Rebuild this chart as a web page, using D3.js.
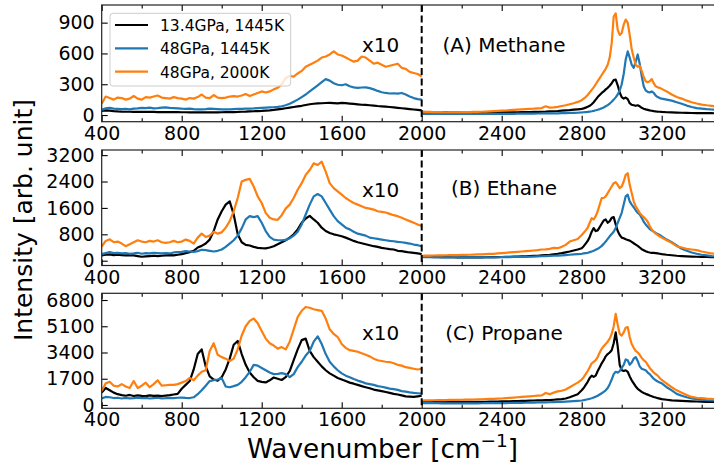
<!DOCTYPE html>
<html>
<head>
<meta charset="utf-8">
<script src="https://cdn.jsdelivr.net/npm/d3@7"></script>
<style>
  body { margin: 0; background: #fff; }
  svg text { font-family: "DejaVu Sans", sans-serif; fill: #000; }
</style>
</head>
<body>
<script>
// wavenumber grids the curves were read on
var leftX = d3.range(400, 2001, 20);
var rightX = d3.range(2000, 2800, 20).concat(d3.range(2800, 3200, 10), d3.range(3200, 3501, 25));

var seriesNames = ['13.4GPa, 1445K', '48GPa, 1445K', '48GPa, 2000K'];
var seriesColors = ['#000000', '#1f77b4', '#ff7f0e'];
var xMajorTicks = [400, 800, 1200, 1600, 2000, 2400, 2800, 3200];
var xMinorTicks = [600, 1000, 1400, 1800, 2200, 2600, 3000, 3400];

// (A) methane, left part already x10
var aLk = [40,45,42,38,35,33,32,32,31,30, 30,30,31,30,29,29,28,28,28,28, 27,27,26,25,25,25,26,26,26,26,
  27,28,28,29,30,32,33,35,37,38, 40,43,46,50,55,60,66,72,78,84, 90,98,105,110,113,115,117,118,116,114,
  118,116,112,108,104,100,98,95,92,88, 85,82,78,74,70,66,62,58,54,50, 45];
var aLb = [50,65,70,62,60,58,60,55,62,65, 70,68,72,65,68,72,75,70,68,65, 62,60,62,58,55,55,58,62,60,58,
  56,55,56,58,60,60,62,63,65,68, 70,72,74,76,80,85,95,110,130,150, 175,200,230,260,290,320,350,335,310,295,
  290,300,280,270,265,268,270,262,250,235, 222,215,210,212,208,215,200,180,165,155, 150];
var aLo = [110,180,165,150,170,165,150,160,185,160, 150,175,170,180,190,170,165,160,175,165,
  160,150,165,160,175,200,170,165,195,170, 165,170,180,185,180,190,205,185,200,215,
  230,220,230,250,265,300,360,380,375,405, 430,470,490,510,530,560,570,590,620,590,
  580,560,540,520,530,570,560,530,500,510, 490,470,480,490,500,460,450,420,410,400, 375];
var aRk = [30,29,28,27,26,25,25,24,24,24, 24,24,24,24,24,24,24,24,25,25, 25,26,26,27,27,28,28,29,30,31, 32,33,35,37,39,42,45,48,52,56,
  60,65,72,80,90,105,125,150,175,195, 215,230,250,265,285,310,340,345,290,220, 175,160,170,155,115,100,95,90,95,85, 70,62,55,50,45,42,38,35,33,32,
  30,27,25,23,22,21,20,19,19,18,18,17,17];
var aRb = [10,10,10,10,10,10,10,10,10,10, 10,10,10,10,11,11,11,11,11,11, 12,12,12,12,13,13,13,14,14,15, 15,16,16,17,17,18,19,20,21,22,
  25,27,29,31,34,37,41,46,52,58, 65,74,85,97,112,130,150,172,200,240, 300,400,540,620,560,490,460,520,590,500, 380,280,240,225,220,230,215,190,175,165,
  160,150,140,125,110,92,78,68,62,57,54,52,50];
var aRo = [32,31,30,29,28,28,27,27,27,27, 28,28,29,30,31,32,34,36,38,40, 42,44,47,50,53,56,58,60,62,65, 68,85,72,75,80,88,95,105,115,128,
  145,160,175,195,220,245,270,300,330,360, 390,420,450,490,560,700,960,990,830,780, 800,880,930,900,780,640,560,490,470,480, 430,370,330,320,330,350,310,280,270,265,
  255,230,200,175,160,140,125,112,102,95,90,85,82];

// (B) ethane
var bLk = [160,180,190,170,180,170,160,170,160,140, 120,130,140,150,140,150,160,170,160,180,
  200,230,260,300,400,450,520,640,900,1250, 1500,1700,1800,1400,800,560,480,460,420,390,
  380,375,400,440,500,560,620,700,800,950, 1150,1280,1360,1250,1150,1000,900,840,800,770,
  740,700,650,600,560,530,500,470,440,420, 390,370,350,340,300,290,270,250,240,220, 200];
var bLb = [200,230,260,230,240,220,230,210,220,240, 210,230,220,240,230,220,230,220,250,260,
  270,290,280,270,290,330,320,300,280,300, 340,420,520,620,760,980,1250,1350,1320,1350,
  1150,900,720,640,620,620,630,680,760,880, 1100,1400,1700,1950,2020,1950,1750,1550,1350,1200,
  1100,1000,950,880,820,790,760,700,680,660, 640,620,600,590,570,560,540,520,490,470, 440];
var bLo = [430,600,650,560,580,520,440,500,560,620, 580,560,600,580,620,560,540,560,600,560,
  580,640,600,520,700,820,720,760,880,820, 860,1000,1200,1500,1900,2400,2450,2480,2250,1950,
  1750,1450,1300,1250,1240,1380,1580,1700,1900,2150, 2350,2600,2750,2950,2900,3000,2700,2350,2200,2100,
  2000,1900,1820,1750,1700,1650,1600,1580,1550,1500, 1480,1460,1420,1380,1350,1300,1250,1200,1150,1100, 1050];
var bRk = [130,125,120,115,112,110,108,106,105,104, 103,102,102,102,103,104,105,106,108,110, 112,115,118,122,126,130,135,140,145,150, 160,170,180,195,210,230,255,280,310,340,
  380,440,520,600,720,880,990,900,920,1020, 1120,1220,1250,1150,1200,1300,1320,1100,900,780, 700,680,650,630,610,570,530,490,450,400, 350,320,290,265,250,240,235,230,220,210,
  200,180,165,150,140,132,125,120,115,112,110,108,106];
var bRb = [110,108,106,104,102,100,100,100,100,100, 100,100,100,100,100,101,102,103,104,105, 106,108,110,112,114,116,118,120,125,130, 135,140,145,150,155,160,170,180,190,200,
  210,220,230,240,260,280,300,330,360,400, 450,510,580,660,740,810,880,990,1150,1300, 1450,1700,1950,2000,1800,1700,1620,1530,1450,1400, 1300,1180,1100,1030,960,920,880,840,810,780,
  740,640,560,460,360,300,250,210,180,160,140,130,120];
var bRo = [150,152,155,158,160,162,165,168,170,172, 175,178,180,185,190,195,200,205,210,220, 230,240,250,260,270,280,290,300,310,320, 340,345,360,390,380,420,480,580,620,660,
  780,850,920,1000,1150,1290,1250,1350,1500,1700, 1900,1900,1950,2050,2150,2250,2350,2380,2300,2200, 2250,2400,2600,2650,2300,2050,1800,1650,1550,1450, 1380,1320,1260,1180,1050,950,880,820,780,740,
  700,620,540,440,400,360,340,320,280,250,220,200,190];

// (C) propane
var cLk = [800,1100,950,800,700,640,600,650,580,620, 590,570,620,590,600,580,610,640,680,720,
  1050,1300,1550,2300,3300,3600,2500,1850,1650,1580, 1800,2300,3000,3900,4150,3300,2600,2100,1800,1560,
  1500,1460,1600,1780,1700,1620,1800,2200,2900,3600, 4200,4300,3500,3100,2800,2500,2250,2050,1900,1750,
  1650,1550,1450,1380,1300,1220,1150,1080,1000,950, 900,840,780,720,680,620,560,540,520,560, 600];
var cLb = [430,520,500,450,470,420,460,430,450,480, 440,460,420,450,470,430,440,460,440,470,
  480,460,450,500,700,950,1250,1550,1600,1650, 1740,1200,1150,1220,1300,1500,1800,2150,2600,2550,
  2400,2250,2100,2000,2020,2060,2000,1800,2000,2450, 2800,3200,3500,4100,4450,3950,3300,2800,2500,2250,
  2050,1900,1800,1680,1580,1500,1400,1350,1300,1220, 1180,1120,1060,1030,980,900,870,820,780,760, 740];
var cLo = [900,1400,1500,1250,1200,1350,1200,1100,1550,1100, 1250,1450,1150,1350,1600,1250,1280,1300,1300,1350,
  1450,1550,1750,1600,1900,2150,2250,3500,4000,3250, 3100,3000,2850,3000,3600,4500,5100,5450,5600,5300,
  4800,4300,4000,3850,3650,3750,3600,4100,4900,5700, 6100,6350,6300,6200,6150,6100,5600,4900,4600,4400,
  3950,3700,3550,3500,3450,3350,3250,3150,3000,2900, 2850,2800,2780,2700,2600,2550,2450,2400,2350,2300, 2350];
var cRk = [250,240,230,220,215,210,205,200,200,200, 200,200,200,200,200,205,210,215,220,225, 230,235,240,245,250,260,270,280,290,300, 300,310,320,340,360,380,420,500,600,700,
  950,1100,1300,1500,1750,1900,1820,1900,2200,2450, 2700,2900,3150,3300,3400,3550,4000,4700,3800,2600, 2250,2200,2250,2150,1850,1600,1400,1200,1050,950, 850,780,720,670,620,570,520,480,440,410,
  380,340,300,280,260,245,235,225,215,205,195,190,185];
var cRb = [120,118,116,114,112,110,110,110,110,110, 110,110,110,110,110,112,114,116,118,120, 122,125,128,131,135,140,145,150,155,160, 165,170,178,186,195,205,215,230,250,270,
  290,310,340,370,400,440,490,540,600,680, 760,850,950,1100,1350,1650,2000,2150,2100,2200, 2400,2600,2950,2900,2600,2750,3000,3100,2850,2500, 2350,2300,2250,2100,2000,1850,1700,1600,1520,1460,
  1400,1150,950,720,600,500,420,380,350,320,300,290,280];
var cRo = [290,295,300,305,310,315,320,325,330,335, 340,345,350,355,360,370,380,390,400,410, 420,440,460,480,500,520,540,560,580,600, 620,780,700,800,880,920,1000,1150,1300,1450,
  1650,1800,2000,2200,2450,2700,2800,2900,3100,3400, 3650,3800,3950,4100,4300,4600,5100,5900,5200,4600, 4500,4700,5000,5050,4400,3950,3700,3500,3400,3250, 3050,2900,2800,2600,2400,2250,2100,2000,1900,1750,
  1620,1380,1150,950,800,650,520,470,440,410,390,380,370];

var yTicksA = [0, 300, 600, 900];
var yTicksB = [0, 800, 1600, 2400, 3200];
var yTicksC = [0, 1700, 3400, 5100, 6800];

var panels = [
  {title: '(A) Methane', top: 5, bottom: 121.7, ylim: [-65, 1072], ticks: yTicksA, titleY: 52,
   left: [aLk, aLb, aLo], right: [aRk, aRb, aRo]},
  {title: '(B) Ethane', top: 150, bottom: 265.5, ylim: [-145, 3355], ticks: yTicksB, titleY: 195,
   left: [bLk, bLb, bLo], right: [bRk, bRb, bRo]},
  {title: '(C) Propane', top: 293.3, bottom: 408.3, ylim: [-215, 7235], ticks: yTicksC, titleY: 340,
   left: [cLk, cLb, cLo], right: [cRk, cRb, cRo]}
];

var W = 714, H = 469;
var svg = d3.select('body').append('svg').attr('width', W).attr('height', H);
svg.append('rect').attr('width', W).attr('height', H).attr('fill', '#fff');

var x = d3.scaleLinear().domain([400, 3500]).range([101.7, 721.7]);

panels.forEach(function (p, pi) {
  var y = d3.scaleLinear().domain(p.ylim).range([p.bottom, p.top]);
  var g = svg.append('g');

  g.append('clipPath').attr('id', 'clip' + pi)
    .append('rect').attr('x', x.range()[0]).attr('y', p.top)
    .attr('width', x.range()[1] - x.range()[0]).attr('height', p.bottom - p.top);

  var plot = g.append('g').attr('clip-path', 'url(#clip' + pi + ')');
  var line = d3.line().x(function (d) { return x(d[0]); }).y(function (d) { return y(d[1]); });

  [0, 1, 2].forEach(function (s) {
    [[leftX, p.left[s]], [rightX, p.right[s]]].forEach(function (part) {
      plot.append('path')
        .datum(part[0].map(function (v, i) { return [v, part[1][i]]; }))
        .attr('d', line)
        .attr('fill', 'none')
        .attr('stroke', seriesColors[s])
        .attr('stroke-width', 2.2)
        .attr('stroke-linejoin', 'round');
    });
  });

  // dashed separator at 2000
  g.append('line')
    .attr('x1', x(2000)).attr('x2', x(2000))
    .attr('y1', p.top).attr('y2', p.bottom)
    .attr('stroke', '#000').attr('stroke-width', 2)
    .attr('stroke-dasharray', '7,3.5');

  // axes, ticks pointing in
  g.append('g').attr('transform', 'translate(0,' + p.bottom + ')')
    .call(d3.axisBottom(x).tickValues(xMajorTicks).tickSizeInner(-6).tickSizeOuter(0).tickPadding(4.5).tickFormat(d3.format('d')));
  g.append('g').attr('transform', 'translate(0,' + p.bottom + ')')
    .call(d3.axisBottom(x).tickValues(xMinorTicks).tickSizeInner(-3.5).tickSizeOuter(0).tickFormat(''));
  g.append('g').attr('transform', 'translate(0,' + p.top + ')')
    .call(d3.axisTop(x).tickValues(xMajorTicks).tickSizeInner(-6).tickSizeOuter(0).tickFormat(''));
  g.append('g').attr('transform', 'translate(0,' + p.top + ')')
    .call(d3.axisTop(x).tickValues(xMinorTicks).tickSizeInner(-3.5).tickSizeOuter(0).tickFormat(''));
  g.append('g').attr('transform', 'translate(' + x.range()[0] + ',0)')
    .call(d3.axisLeft(y).tickValues(p.ticks).tickSizeInner(-6).tickSizeOuter(0).tickPadding(7).tickFormat(d3.format('d')));

  g.selectAll('.domain').remove();
  g.selectAll('.tick line').attr('stroke', '#000').attr('stroke-width', 1.1);
  g.selectAll('.tick text').attr('font-size', 19).attr('font-family', 'DejaVu Sans');

  g.append('rect')
    .attr('x', x.range()[0]).attr('y', p.top)
    .attr('width', x.range()[1] - x.range()[0]).attr('height', p.bottom - p.top)
    .attr('fill', 'none').attr('stroke', '#222').attr('stroke-width', 1.2);

  g.append('text').attr('x', 362).attr('y', p.top + 47).attr('font-size', 20).text('x10');
  g.append('text').attr('x', 504).attr('y', p.titleY).attr('font-size', 20)
    .attr('text-anchor', 'middle').text(p.title);
});

// legend in panel A
var leg = svg.append('g');
leg.append('rect').attr('x', 110).attr('y', 13.3).attr('width', 180.7).attr('height', 72.7)
  .attr('rx', 3).attr('fill', '#fff').attr('fill-opacity', 0.8)
  .attr('stroke', '#cccccc').attr('stroke-width', 1);
seriesNames.forEach(function (name, i) {
  var ly = 25 + i * 23.3;
  leg.append('line').attr('x1', 115).attr('x2', 148).attr('y1', ly).attr('y2', ly)
    .attr('stroke', seriesColors[i]).attr('stroke-width', 2.2);
  leg.append('text').attr('x', 160).attr('y', ly + 6).attr('font-size', 15.5).text(name);
});

// axis labels
var xl = svg.append('text').attr('x', 247).attr('y', 458).attr('font-size', 26.3);
xl.append('tspan').text('Wavenumber [cm');
xl.append('tspan').attr('font-size', 18.5).attr('dy', -11).text('\u22121');
xl.append('tspan').attr('dy', 11).text(']');

svg.append('text').attr('transform', 'translate(32,220) rotate(-90)')
  .attr('text-anchor', 'middle').attr('font-size', 25).text('Intensity [arb. unit]');
</script>
</body>
</html>
